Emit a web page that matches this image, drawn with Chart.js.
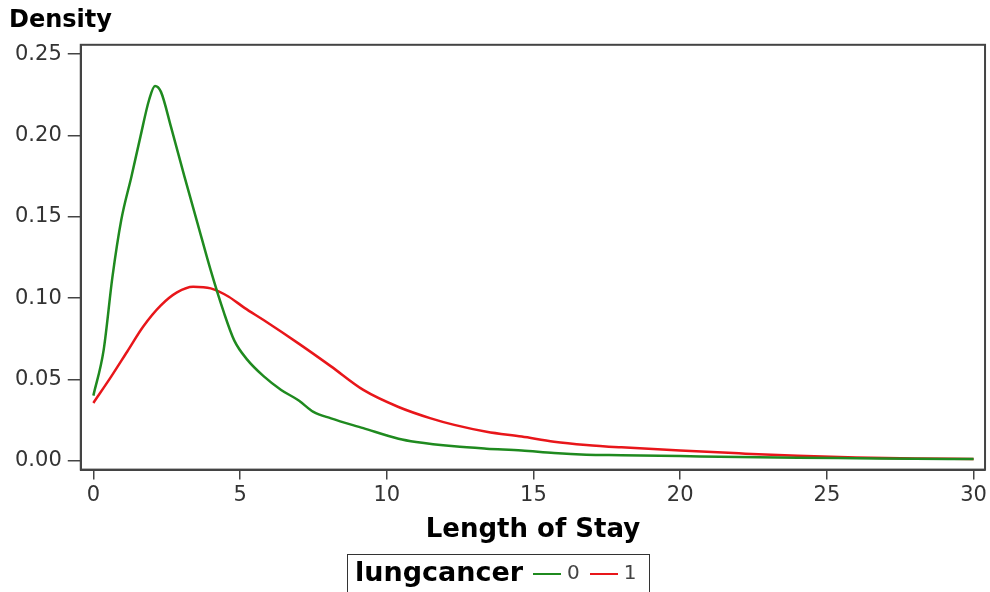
<!DOCTYPE html>
<html>
<head>
<meta charset="utf-8">
<script src="https://cdn.jsdelivr.net/npm/chart.js@4.4.1/dist/chart.umd.min.js"></script>
<style>
  html, body { margin: 0; padding: 0; background: #fff; overflow: hidden; }
  #wrap { position: relative; width: 990px; height: 592px; }
  #legenda {
    position: absolute; left: 347px; top: 554px; width: 303px; height: 50px;
    border: 1.5px solid #333; box-sizing: border-box;
    display: flex; align-items: flex-start; padding: 2px 0 0 7px;
    font-family: "DejaVu Sans", sans-serif; color: #444; font-size: 20px;
  }
  #legenda .tit { font-weight: bold; font-size: 27px; color: #000; margin-right: 10px; line-height: 30px; }
  #legenda .item { display: flex; align-items: center; height: 30px; margin-right: 10px; }
  #legenda .linea { width: 28px; height: 2px; margin-right: 6px; margin-top: 4px; }
</style>
</head>
<body>
<div id="wrap">
  <canvas id="grafica" width="990" height="592"></canvas>
  <div id="legenda"></div>
</div>
<script>
// ============================================================
//  Densidad de "Length of Stay" por lungcancer (0 / 1)
// ============================================================

// --- grupo lungcancer = 0 (verde)
const losG  = [0, 0.35, 0.65, 0.95, 1.3, 1.6, 1.9, 2.1, 2.3, 2.65, 3.1, 3.55, 4.0, 4.45, 4.8, 5.25, 5.8, 6.4, 7.0, 7.5, 8.1, 9.2, 10.4, 11.0, 12.3, 13.4, 14.6, 15.7, 16.8, 18.0, 20.0, 22.0, 24.0, 26.0, 28.0, 30.0];
const densG = [0.040, 0.068, 0.113, 0.148, 0.175, 0.199, 0.222, 0.2305, 0.227, 0.205, 0.175, 0.146, 0.117, 0.091, 0.074, 0.062, 0.052, 0.0435, 0.037, 0.030, 0.026, 0.020, 0.0135, 0.0115, 0.0088, 0.0074, 0.0063, 0.0047, 0.0037, 0.0034, 0.0028, 0.0022, 0.0018, 0.0015, 0.0012, 0.0010];

// --- grupo lungcancer = 1 (rojo)
const losR  = [0, 0.6, 1.15, 1.7, 2.3, 2.85, 3.4, 4.0, 4.6, 5.15, 5.8, 7.0, 8.1, 9.2, 10.4, 11.5, 12.3, 13.4, 14.6, 15.7, 16.8, 18.0, 20.0, 22.0, 24.0, 26.0, 28.0, 30.0];
const densR = [0.0355, 0.0515, 0.067, 0.0825, 0.0955, 0.1035, 0.107, 0.106, 0.101, 0.094, 0.0865, 0.072, 0.058, 0.0435, 0.033, 0.026, 0.022, 0.0178, 0.0148, 0.0117, 0.0097, 0.0082, 0.0062, 0.0045, 0.0030, 0.0020, 0.0014, 0.0010];

const grupos   = ['0', '1'];
const xTicks   = [0, 5, 10, 15, 20, 25, 30];
const yTicks   = [0, 0.05, 0.10, 0.15, 0.20, 0.25];
const colores  = ['#1f8a1f', '#e8161a'];

const FUENTE = '"DejaVu Sans", sans-serif';

const pares = (xs, ys) => xs.map((x, i) => ({ x, y: ys[i] }));

// marco completo alrededor del área de trazado
const marco = {
  id: 'marco',
  afterDraw(chart) {
    const { ctx, chartArea: a } = chart;
    ctx.save();
    ctx.strokeStyle = '#444';
    ctx.lineWidth = 2;
    ctx.strokeRect(a.left, a.top, a.right - a.left, a.bottom - a.top);
    ctx.restore();
  }
};

const ctx = document.getElementById('grafica').getContext('2d');
const chart = new Chart(ctx, {
  type: 'line',
  data: {
    datasets: [
      { label: grupos[0], data: pares(losG, densG), borderColor: colores[0], borderWidth: 2.5,
        pointRadius: 0, cubicInterpolationMode: 'monotone', fill: false },
      { label: grupos[1], data: pares(losR, densR), borderColor: colores[1], borderWidth: 2.5,
        pointRadius: 0, cubicInterpolationMode: 'monotone', fill: false }
    ]
  },
  options: {
    responsive: false,
    animation: false,
    layout: { padding: { left: 9, right: 4, top: 0, bottom: 46 } },
    plugins: {
      legend: { display: false },
      tooltip: { enabled: false },
      title: {
        display: true, text: 'Density', align: 'start', color: '#000',
        font: { family: FUENTE, size: 24, weight: 'bold' },
        padding: { top: 6, bottom: 10 }
      }
    },
    scales: {
      x: {
        type: 'linear', min: -0.43, max: 30.39,
        afterBuildTicks: s => { s.ticks = xTicks.map(v => ({ value: v })); },
        grid: { drawOnChartArea: false, drawTicks: true, tickLength: 10, color: '#444', lineWidth: 1.5 },
        border: { display: true, color: '#444', width: 2 },
        ticks: { color: '#333', font: { family: FUENTE, size: 21 }, padding: 3, maxRotation: 0 },
        title: { display: true, text: 'Length of Stay', color: '#000',
                 font: { family: FUENTE, size: 26, weight: 'bold' }, padding: { top: 4, bottom: 0 } }
      },
      y: {
        type: 'linear', min: -0.0055, max: 0.2558,
        afterBuildTicks: s => { s.ticks = yTicks.map(v => ({ value: v })); },
        grid: { drawOnChartArea: false, drawTicks: true, tickLength: 13, color: '#444', lineWidth: 1.5 },
        border: { display: true, color: '#444', width: 2 },
        ticks: { color: '#333', font: { family: FUENTE, size: 21 }, padding: 6,
                 callback: v => v.toFixed(2) }
      }
    }
  },
  plugins: [marco]
});

// Leyenda a mano: "lungcancer" seguido de las muestras de línea
const leg = document.getElementById('legenda');
let html = '<span class="tit">lungcancer</span>';
chart.data.datasets.forEach(d => {
  html += `<span class="item"><span class="linea" style="background:${d.borderColor}"></span>${d.label}</span>`;
});
leg.innerHTML = html;
</script>
</body>
</html>
